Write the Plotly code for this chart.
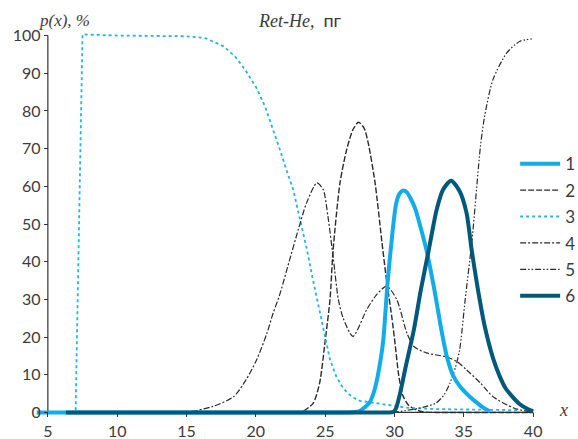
import plotly.graph_objects as go

# ---- data ----
x1 = [4.2, 10.0, 15.0, 20.0, 25.0, 26.5, 27.0, 27.5, 28.2, 28.6, 29.0, 29.2, 29.5, 29.8, 30.1,
      30.35, 30.63, 30.9, 31.2, 31.5, 32.0, 32.3, 32.7, 33.0, 33.4, 33.8, 34.2, 34.7, 35.2,
      35.8, 36.4, 36.9]
y1 = [0, 0, 0, 0, 0, 0, 0.05, 0.4, 2.6, 6.5, 14, 19.5, 34.4, 45.8, 55.0,
      58.0, 58.9, 58.4, 56.5, 54.0, 47.5, 43.2, 36.0, 30.0, 21.5, 14.5, 10.0, 7.0, 5.0,
      3.0, 1.3, 0.3]

x2 = [5.0, 10.0, 15.0, 20.0, 22.0, 22.6, 23.0, 23.4, 24.14, 24.6, 25.0, 25.35, 25.57, 26.07,
      26.55, 27.0, 27.4, 27.8, 28.1, 28.6, 29.1, 29.45, 29.8, 30.05, 30.3, 30.6, 31.0, 31.5,
      32.0, 33.0, 34.0, 36.0, 38.0, 40.0]
y2 = [0, 0, 0, 0, 0, 0, 0, 0.3, 2.5, 7.8, 19.0, 30.0, 43.0, 60.9,
      69.7, 75.0, 77.0, 75.5, 71.6, 60.9, 45.0, 34.4, 25.5, 18.0, 10.0, 4.5, 2.0, 0.8,
      0.2, 0, 0, 0, 0, 0]

x3 = [5.0, 7.0, 7.5, 10.0, 15.0, 16.3, 17.65, 18.5, 19.3, 20.05, 20.66, 21.25, 21.74, 22.2,
      22.7, 23.2, 23.7, 24.1, 24.5, 24.9, 25.35, 25.8, 26.2, 26.6, 27.0, 27.5, 28.2, 29.0,
      30.0, 31.0, 33.0, 36.0, 39.0]
y3 = [0, 0, 100.3, 100.0, 99.8, 99.4, 97.2, 94.5, 90.5, 86.1, 81.2, 75.0, 69.7, 64.4,
      59.1, 51.0, 43.0, 35.5, 28.5, 21.0, 14.0, 9.6, 7.0, 5.2, 4.0, 3.1, 2.7, 2.4,
      1.8, 1.2, 0.9, 0.7, 0.6]

x4 = [5.0, 10.0, 14.0, 14.7, 15.25, 16.9, 18.4, 19.3, 20.06, 20.8, 21.25, 21.7, 22.4, 23.06,
      23.66, 24.4, 24.86, 25.2, 25.6, 25.95, 26.3, 27.0, 28.0, 28.7, 29.44, 30.16, 30.9,
      31.4, 32.3, 33.8, 34.5, 35.2, 36.2, 37.1, 38.6, 40.0]
y4 = [0, 0, 0, 0, 0.2, 1.6, 4.2, 8.7, 14.0, 21.0, 26.4, 31.0, 40.0, 48.5,
      55.6, 60.9, 59.1, 52.0, 40.5, 30.0, 25.0, 20.2, 27.3, 31.2, 33.5, 30.0, 21.0,
      17.5, 15.8, 14.7, 13.5, 11.3, 7.8, 4.2, 1.2, 0]

x5 = [5.0, 10.0, 15.0, 20.0, 25.0, 29.0, 30.0, 30.8, 31.6, 32.3, 33.0, 33.6, 34.0, 34.4, 34.7,
      35.1, 35.6, 36.2, 36.5, 37.1, 38.1, 39.05, 39.9]
y5 = [0, 0, 0, 0, 0, 0, 0.1, 0.5, 1.0, 1.6, 2.5, 4.8, 7.8, 12.0, 16.6,
      30.0, 46.0, 70.6, 78.6, 88.3, 95.4, 98.5, 99.1]

x6 = [6.3, 10.0, 15.0, 20.0, 25.0, 28.5, 29.5, 29.9, 30.1, 30.4, 30.8, 31.4, 31.9, 32.44,
      33.04, 33.5, 34.08, 34.7, 35.2, 35.57, 36.0, 36.5, 37.1, 37.6, 38.0, 38.5, 39.0, 39.5,
      40.0]
y6 = [0, 0, 0, 0, 0, 0, 0, 0.1, 1.0, 5.0, 12.0, 22.0, 32.5, 42.5,
      53.8, 59.1, 61.5, 58.7, 52.9, 43.0, 33.0, 23.0, 14.5, 9.5, 6.5, 4.2, 2.3, 1.1,
      0.3]

legend_names = ["1", "2", "3", "4", "5", "6"]
x_ticks = [5, 10, 15, 20, 25, 30, 35, 40]
y_ticks = [0, 10, 20, 30, 40, 50, 60, 70, 80, 90, 100]

LIGHT = "#12ade6"
DARK = "#00587b"
DOTC = "#22b4ea"
BLK = "#2a2a2a"

FONT = "Lato, sans-serif"
TXT = "#3c3c3c"

fig = go.Figure()

series = [
    # (x, y, name, color, width, dash, rank, shape)
    (x2, y2, legend_names[1], BLK, 1.4, "6px,2px", 2, "spline"),
    (x3, y3, legend_names[2], DOTC, 1.8, "3px,3px", 3, "linear"),
    (x4, y4, legend_names[3], BLK, 1.2, "6px,2px,2px,2px", 4, "spline"),
    (x5, y5, legend_names[4], BLK, 1.2, "6px,2px,1.5px,2px,1.5px,2px", 5, "spline"),
    (x1, y1, legend_names[0], LIGHT, 4, "solid", 1, "spline"),
    (x6, y6, legend_names[5], DARK, 4, "solid", 6, "spline"),
]
for xs, ys, nm, col, w, dsh, rk, shp in series:
    ln = dict(color=col, width=w, dash=dsh, shape=shp)
    if shp == "spline":
        ln["smoothing"] = 0.7
    fig.add_trace(go.Scatter(
        x=xs, y=ys, mode="lines", name=nm, legendgroup=nm, legendrank=rk,
        line=ln, hoverinfo="skip",
    ))

X0, X1 = 4.0, 41.0
Y0, Y1 = -2.0, 102.0

fig.update_layout(
    width=578, height=439,
    margin=dict(l=34.14, r=31.14, t=28.47, b=18.8, autoexpand=False),
    paper_bgcolor="white", plot_bgcolor="white",
    showlegend=True,
    legend=dict(
        x=(515 - 34.14) / 512.7, y=(420.2 - 146.5) / 391.8, xanchor="left", yanchor="top",
        traceorder="grouped", tracegroupgap=1.3, itemwidth=40,
        font=dict(family=FONT, size=17, color=TXT),
        bgcolor="rgba(0,0,0,0)",
    ),
    xaxis=dict(
        range=[X0, X1], anchor="free", position=(0 - Y0) / (Y1 - Y0),
        tickvals=x_ticks, ticktext=[str(v) for v in x_ticks],
        ticks="outside", ticklen=4, tickcolor="#333", tickwidth=1,
        showline=False, showgrid=False, zeroline=False,
        tickfont=dict(family=FONT, size=16, color=TXT),
    ),
    yaxis=dict(
        range=[Y0, Y1], anchor="free", position=(5 - X0) / (X1 - X0),
        tickvals=y_ticks, ticktext=[str(v) for v in y_ticks],
        ticks="outside", ticklen=4, tickcolor="#333", tickwidth=1,
        showline=False, showgrid=False, zeroline=False,
        tickfont=dict(family=FONT, size=16, color=TXT),
    ),
    shapes=[
        dict(type="line", xref="x", yref="y", x0=5, x1=40, y0=0, y1=0,
             line=dict(color="#333", width=1.2), layer="below"),
        dict(type="line", xref="x", yref="y", x0=5, x1=5, y0=0, y1=100,
             line=dict(color="#333", width=1.2), layer="below"),
    ],
    annotations=[
        dict(text="<i>p(x), %</i>", xref="paper", yref="paper",
             x=(65 - 34.14) / 512.7, y=(420.2 - 21) / 391.8, xanchor="center", yanchor="middle",
             showarrow=False, font=dict(family="Liberation Serif, serif", size=17, color=TXT)),
        dict(text="<i>Ret-He,</i>  <span style='font-family:Lato, sans-serif'>пг</span>",
             xref="paper", yref="paper",
             x=(300 - 34.14) / 512.7, y=(420.2 - 20) / 391.8, xanchor="center", yanchor="middle",
             showarrow=False, font=dict(family="Liberation Serif, serif", size=18, color=TXT)),
        dict(text="<i>x</i>", xref="paper", yref="paper",
             x=(563 - 34.14) / 512.7, y=(420.2 - 410) / 391.8, xanchor="center", yanchor="middle",
             showarrow=False, font=dict(family="Liberation Serif, serif", size=18, color=TXT)),
    ],
)

fig.write_html("out.html")
